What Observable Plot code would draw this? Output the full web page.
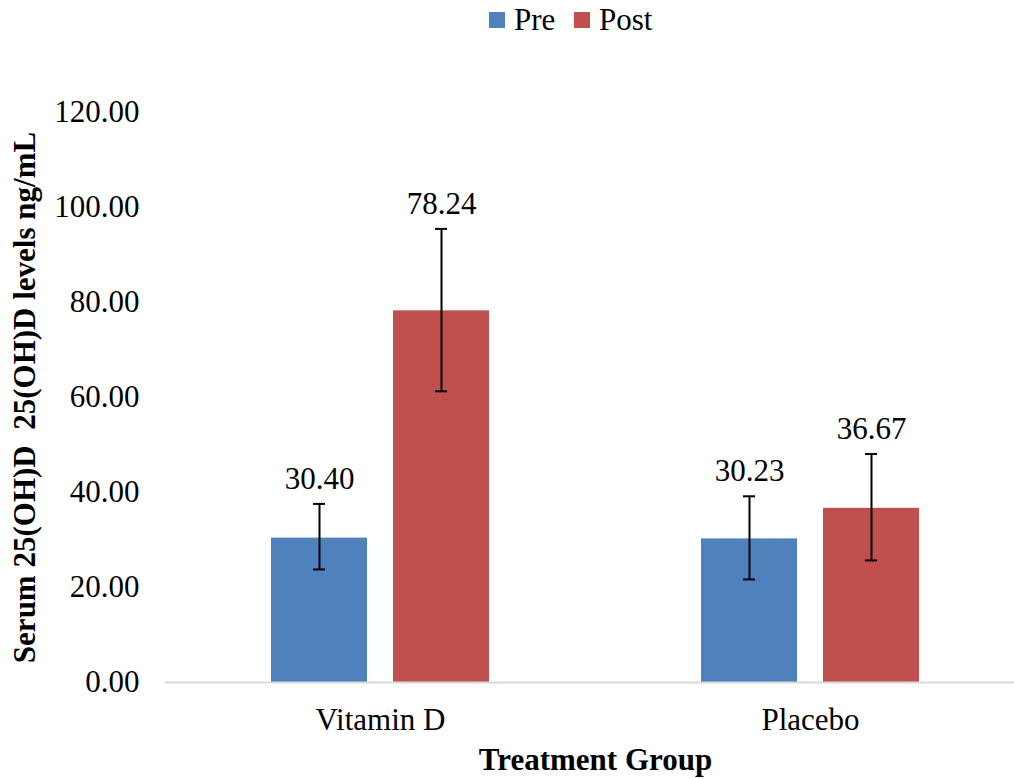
<!DOCTYPE html>
<html>
<head>
<meta charset="utf-8">
<script src="https://cdn.jsdelivr.net/npm/d3@7"></script>
<script src="https://cdn.jsdelivr.net/npm/@observablehq/plot@0.6"></script>
<style>
  body { margin: 0; background: #fff; font-family: 'Liberation Serif', Tinos, serif; }
  #legend { position: relative; height: 45px; }
  .item { position: absolute; top: 0; display: flex; align-items: center; height: 40px; font-size: 31px; color: #000; font-family: 'Liberation Serif', Tinos, serif; }
  .sw { width: 16px; height: 16px; margin-right: 9px; }
  svg text { font-family: 'Liberation Serif', Tinos, serif; }
  g[aria-label="y-axis label"] text, g[aria-label="fx-axis label"] text { font-weight: bold; }
</style>
</head>
<body>
<div id="legend"></div>
<div id="chart"></div>
<script>
const groups = ["Vitamin D", "Placebo"];
const series = ["Pre", "Post"];
const colors = ["#4F81BD", "#C0504D"];
const meanVitD = [30.40, 78.24];
const meanPlacebo = [30.23, 36.67];
const lowVitD = [23.8, 61.3];
const highVitD = [37.6, 95.5];
const lowPlacebo = [21.7, 25.7];
const highPlacebo = [39.2, 48.1];
const yTicks = [0, 20, 40, 60, 80, 100, 120];
const yTitle = "Serum 25(OH)D \u00a025(OH)D levels ng/mL";
const xTitle = "Treatment Group";

const data = [];
groups.forEach((g, gi) => {
  const m = gi === 0 ? meanVitD : meanPlacebo;
  const lo = gi === 0 ? lowVitD : lowPlacebo;
  const hi = gi === 0 ? highVitD : highPlacebo;
  series.forEach((s, si) => data.push({group: g, series: s, value: m[si], low: lo[si], high: hi[si]}));
});

// legend
const legend = document.getElementById("legend");
const legendLeft = [489, 574];
series.forEach((s, i) => {
  const it = document.createElement("div");
  it.className = "item";
  it.style.left = legendLeft[i] + "px";
  it.innerHTML = `<div class="sw" style="background:${colors[i]}"></div><span>${s}</span>`;
  legend.appendChild(it);
});

const chart = Plot.plot({
  width: 1014,
  height: 734,
  marginTop: 67,
  marginBottom: 97,
  marginLeft: 165,
  marginRight: -11,
  style: {fontFamily: "Liberation Serif, Tinos, serif", fontSize: "31px", color: "#000", background: "#fff"},
  fx: {domain: groups, padding: 0, label: xTitle, labelAnchor: "center", labelArrow: "none", labelOffset: 87, tickSize: 0, tickPadding: 25},
  x: {domain: series, axis: null, paddingInner: 0.217, paddingOuter: 0.862},
  y: {domain: [0, 120], ticks: yTicks, tickFormat: d3.format(".2f"), tickSize: 0, tickPadding: 26,
      label: yTitle, labelAnchor: "center", labelArrow: "none", labelOffset: 153},
  color: {domain: series, range: colors},
  marks: [
    Plot.barY(data, {fx: "group", x: "series", y: "value", fill: "series"}),
    Plot.ruleY([0], {stroke: "#d9d9d9", strokeWidth: 2}),
    Plot.ruleX(data, {fx: "group", x: "series", y1: "low", y2: "high", stroke: "#000", strokeWidth: 2}),
    Plot.tickY(data, {fx: "group", x: "series", y: "low", stroke: "#000", strokeWidth: 2, insetLeft: 42, insetRight: 42}),
    Plot.tickY(data, {fx: "group", x: "series", y: "high", stroke: "#000", strokeWidth: 2, insetLeft: 42, insetRight: 42}),
    Plot.text(data, {fx: "group", x: "series", y: "high", text: d => d.value.toFixed(2), dy: -25, lineAnchor: "middle", fill: "#000", fontSize: 31})
  ]
});
document.getElementById("chart").appendChild(chart);
</script>
</body>
</html>
